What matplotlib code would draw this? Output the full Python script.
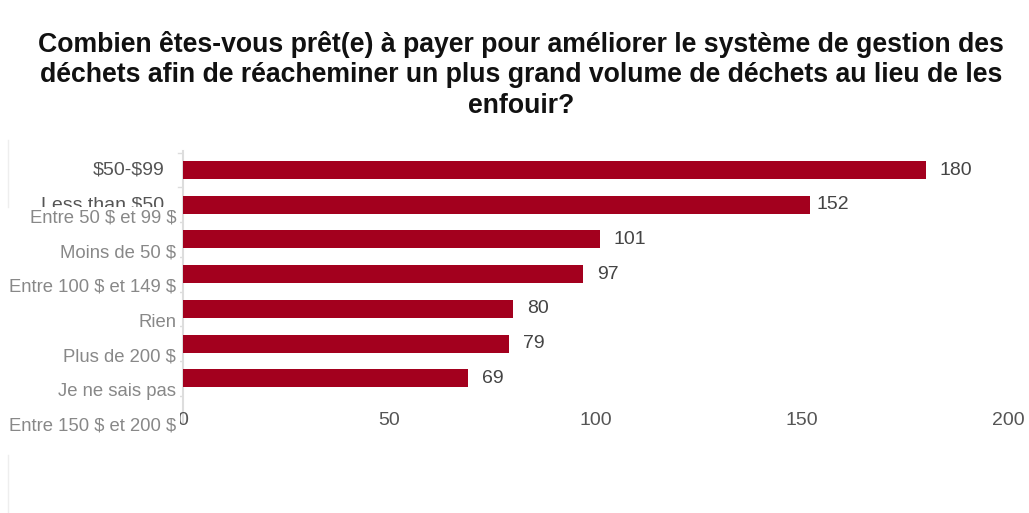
import matplotlib.pyplot as plt
from matplotlib.lines import Line2D
from matplotlib.patches import Rectangle
from matplotlib.transforms import ScaledTranslation

plt.rcParams['font.family'] = ['Liberation Sans', 'DejaVu Sans']
plt.rcParams['text.parse_math'] = False

title = ("Combien êtes-vous prêt(e) à payer pour améliorer le système de gestion des\n"
         "déchets afin de réacheminer un plus grand volume de déchets au lieu de les\n"
         "enfouir?")
categories_fr = ["Entre 50 $ et 99 $", "Moins de 50 $", "Entre 100 $ et 149 $", "Rien",
                 "Plus de 200 $", "Je ne sais pas", "Entre 150 $ et 200 $"]
categories_en = ["$50-$99", "Less than $50"]
values = [180, 152, 101, 97, 80, 79, 69]
x_ticks = [0, 50, 100, 150, 200]

W, H = 1029, 513
BAR = '#a3001e'


def fx(px):
    return px / W


def fy(py):
    return 1 - py / H


fig = plt.figure(figsize=(W / 100, H / 100), dpi=100)
fig.patch.set_facecolor('white')

top, bottom = 152.7, 395.6
ax = fig.add_axes([fx(183), fy(bottom), fx(1008) - fx(183), (bottom - top) / H])

pos = list(range(len(values)))
ax.barh(pos, values, height=0.52, color=BAR, zorder=2)
ax.set_xlim(0, 200)
ax.set_ylim(len(values) - 0.5, -0.5)

for s in ax.spines.values():
    s.set_visible(False)
ax.set_yticks([])
ax.set_xticks(x_ticks)
ax.set_xticklabels([str(t) for t in x_ticks], fontsize=14, color='#555555')
ax.tick_params(axis='x', length=0, pad=12)

# vertical axis line and small boundary ticks
ax.plot([0, 0], [-0.55, 7.3], color='#dddddd', lw=1.5, clip_on=False, zorder=1)
for b in [i - 0.5 for i in range(len(values) + 1)]:
    ax.plot([-1.2, -0.3], [b, b], color='#dddddd', lw=1, clip_on=False)

# value labels
offsets = [14, 6, 14, 14, 14, 14, 14]
for i, (v, o) in enumerate(zip(values, offsets)):
    tr = ax.transData + ScaledTranslation(o / 100, 0, fig.dpi_scale_trans)
    ax.text(v, i, str(v), transform=tr, ha='left', va='center',
            fontsize=14, color='#444444')

# english labels (partly hidden) under a white box
ylab = ax.get_yaxis_transform()
for i, lab in enumerate(categories_en):
    tr = ylab + ScaledTranslation(-19 / 100, 0, fig.dpi_scale_trans)
    ax.text(0, i, lab, transform=tr, ha='right', va='center', fontsize=14,
            color='#555555', clip_on=False, zorder=3)

ax.add_patch(Rectangle((0, fy(450)), fx(180), fy(207) - fy(450),
                       transform=fig.transFigure, facecolor='white',
                       edgecolor='none', zorder=4, clip_on=False))
fig.add_artist(Line2D([fx(8), fx(8)], [fy(140), fy(207)], color='#eeeeee', lw=1))
fig.add_artist(Line2D([fx(8), fx(8)], [fy(455), fy(513)], color='#eeeeee', lw=1))

# french labels shifted down
for i, lab in enumerate(categories_fr):
    tr = ylab + ScaledTranslation(-7 / 100, -48 / 100, fig.dpi_scale_trans)
    ax.text(0, i, lab, transform=tr, ha='right', va='center', fontsize=13.3,
            color='#888888', clip_on=False, zorder=5)

fig.text(fx(521), fy(75), title, ha='center', va='center', fontsize=19.2,
         fontweight='bold', color='#111111', linespacing=1.22)

fig.savefig('out.png', dpi=100)
